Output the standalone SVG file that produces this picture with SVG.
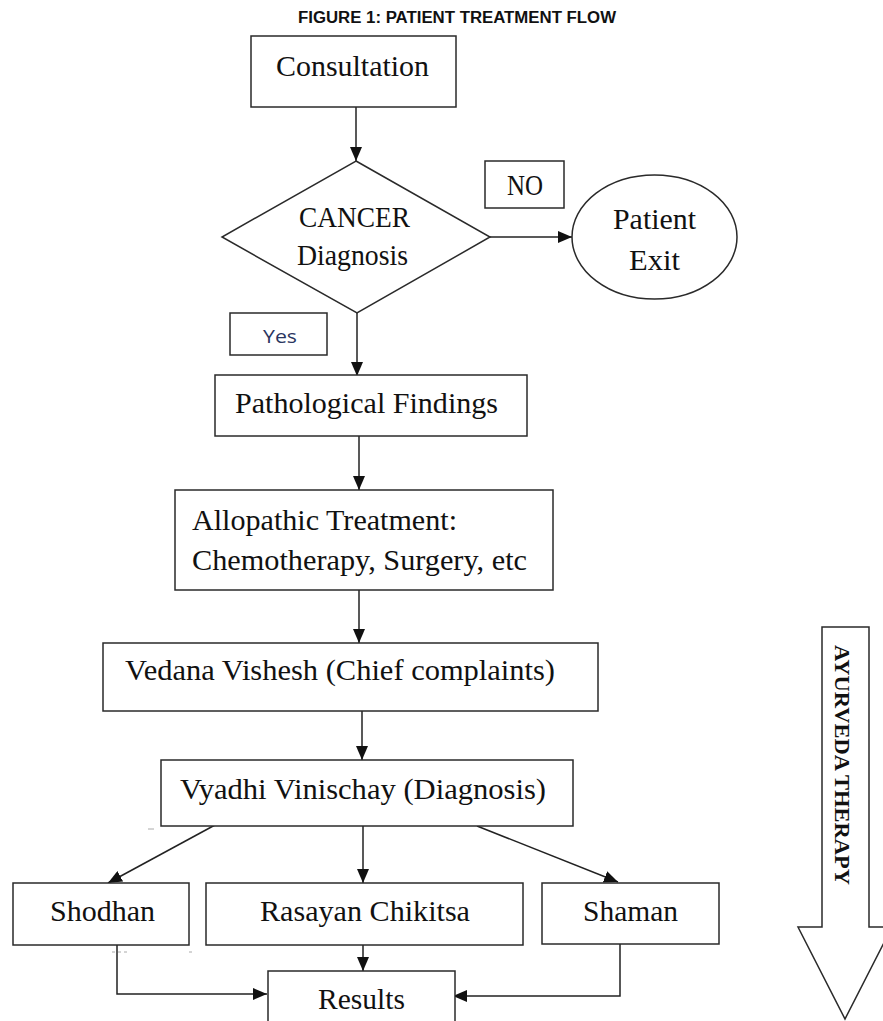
<svg xmlns="http://www.w3.org/2000/svg" width="883" height="1021" viewBox="0 0 883 1021">
<style>
.box{fill:#fff;stroke:#2a2a2a;stroke-width:1.5}
.t{font-family:"Liberation Serif","Times New Roman",serif;font-size:30px;fill:#111}
.c{fill:none;stroke:#222;stroke-width:1.5}
.stray{stroke:#aaa;stroke-width:1}
</style>
<defs>
<marker id="ah" viewBox="0 0 14 12" refX="14" refY="6" markerWidth="14" markerHeight="12" markerUnits="userSpaceOnUse" orient="auto">
<path d="M0,0 L14,6 L0,12 z" fill="#111"/>
</marker>
</defs>
<rect width="883" height="1021" fill="#fff"/>
<text x="298" y="23" font-family="'Liberation Sans',Arial,sans-serif" font-weight="bold" font-size="16" textLength="318" lengthAdjust="spacingAndGlyphs" fill="#111">FIGURE 1: PATIENT TREATMENT FLOW</text>

<g id="connectors">
<path class="c" d="M356,107 V161" marker-end="url(#ah)"/>
<path class="c" d="M490,237 H572" marker-end="url(#ah)"/>
<path class="c" d="M357,313 V376" marker-end="url(#ah)"/>
<path class="c" d="M359,436 V490" marker-end="url(#ah)"/>
<path class="c" d="M359,590 V643" marker-end="url(#ah)"/>
<path class="c" d="M362,711 V760" marker-end="url(#ah)"/>
<path class="c" d="M215,825 L108,883" marker-end="url(#ah)"/>
<path class="c" d="M363,826 V883" marker-end="url(#ah)"/>
<path class="c" d="M477,826 L618,882" marker-end="url(#ah)"/>
<path class="c" d="M363,945 V971" marker-end="url(#ah)"/>
<path class="c" d="M117,945 V994 H267" marker-end="url(#ah)"/>
<path class="c" d="M620,944 V996 H453" stroke="#555" marker-end="url(#ah)"/>
<path class="stray" d="M148,829 H154 M112,952 H115 M118,952 H121 M124,952 H127 M189,952 H192"/>
</g>

<g id="consultation">
<rect class="box" x="251" y="36" width="205" height="71"/>
<text class="t" x="276" y="76" textLength="153" lengthAdjust="spacingAndGlyphs">Consultation</text>
</g>
<g id="cancer-diagnosis">
<polygon class="box" points="356,161 490,237 357,313 222,237"/>
<text class="t" x="299" y="227" font-size="27" textLength="111" lengthAdjust="spacingAndGlyphs">CANCER</text>
<text class="t" x="297" y="265" font-size="27" textLength="111" lengthAdjust="spacingAndGlyphs">Diagnosis</text>
</g>
<g id="no-label">
<rect class="box" x="485" y="161" width="79" height="47"/>
<text class="t" x="507" y="195" font-size="24" textLength="36" lengthAdjust="spacingAndGlyphs">NO</text>
</g>
<g id="patient-exit">
<ellipse class="box" cx="654.5" cy="237" rx="82.5" ry="62"/>
<text class="t" x="613" y="229" textLength="83" lengthAdjust="spacingAndGlyphs">Patient</text>
<text class="t" x="629" y="270" textLength="51" lengthAdjust="spacingAndGlyphs">Exit</text>
</g>
<g id="yes-label">
<rect class="box" x="230" y="313" width="97" height="42"/>
<text x="263" y="343" font-family="'Open Sans','Liberation Sans',sans-serif" font-size="18" fill="#2a3560" textLength="34" lengthAdjust="spacingAndGlyphs">Yes</text>
</g>
<g id="pathological">
<rect class="box" x="215" y="375" width="312" height="61"/>
<text class="t" x="235" y="413" textLength="263" lengthAdjust="spacingAndGlyphs">Pathological Findings</text>
</g>
<g id="allopathic">
<rect class="box" x="175" y="490" width="378" height="100"/>
<text class="t" x="192" y="530" textLength="265" lengthAdjust="spacingAndGlyphs">Allopathic Treatment:</text>
<text class="t" x="192" y="570" textLength="335" lengthAdjust="spacingAndGlyphs">Chemotherapy, Surgery, etc</text>
</g>
<g id="vedana">
<rect class="box" x="103" y="643" width="495" height="68"/>
<text class="t" x="125" y="680" textLength="430" lengthAdjust="spacingAndGlyphs">Vedana Vishesh (Chief complaints)</text>
</g>
<g id="vyadhi">
<rect class="box" x="161" y="760" width="412" height="66"/>
<text class="t" x="180" y="799" textLength="366" lengthAdjust="spacingAndGlyphs">Vyadhi Vinischay (Diagnosis)</text>
</g>
<g id="shodhan">
<rect class="box" x="13" y="883" width="176" height="62"/>
<text class="t" x="50" y="921" textLength="105" lengthAdjust="spacingAndGlyphs">Shodhan</text>
</g>
<g id="rasayan">
<rect class="box" x="206" y="883" width="317" height="62"/>
<text class="t" x="260" y="921" textLength="210" lengthAdjust="spacingAndGlyphs">Rasayan Chikitsa</text>
</g>
<g id="shaman">
<rect class="box" x="542" y="883" width="177" height="61"/>
<text class="t" x="583" y="921" textLength="95" lengthAdjust="spacingAndGlyphs">Shaman</text>
</g>
<g id="results">
<rect class="box" x="268" y="971" width="187" height="60"/>
<text class="t" x="318" y="1009" textLength="87" lengthAdjust="spacingAndGlyphs">Results</text>
</g>
<g id="ayurveda-therapy">
<polygon class="box" points="822,627 869,627 869,927 892,927 845,1019 798,927 822,927"/>
<text transform="translate(835,645) rotate(90)" font-family="'Liberation Serif','Times New Roman',serif" font-weight="bold" font-size="22" fill="#111" textLength="240" lengthAdjust="spacingAndGlyphs">AYURVEDA THERAPY</text>
</g>
</svg>
